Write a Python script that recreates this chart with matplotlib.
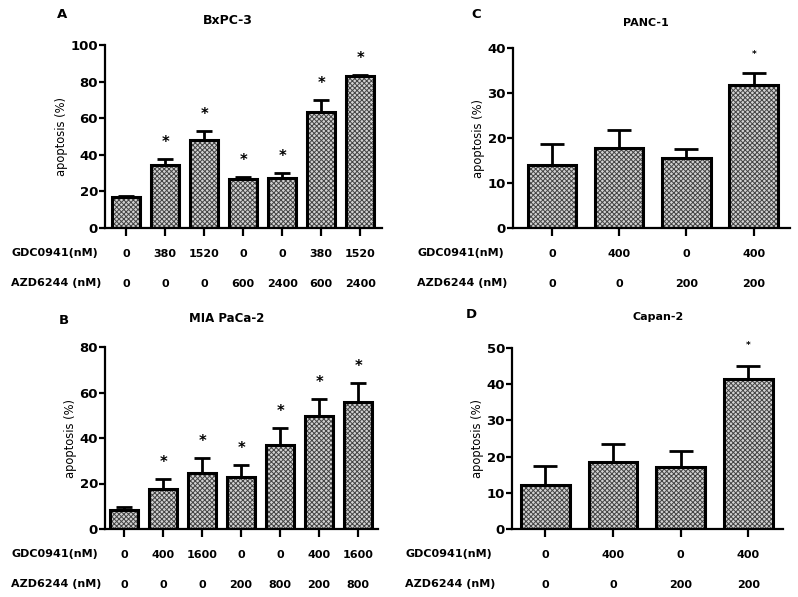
import numpy as np
import matplotlib
matplotlib.use("Agg")
import matplotlib.pyplot as plt

# values (mean apoptosis %, upper SD)
bx_gdc = ["0", "380", "1520", "0", "0", "380", "1520"]
bx_azd = ["0", "0", "0", "600", "2400", "600", "2400"]
bx_mean = [17.1, 34.4, 47.9, 26.8, 27.3, 63.4, 82.9]
bx_err = [0.4, 3.3, 5.1, 1.1, 2.6, 6.4, 0.7]
bx_sig = [False, True, True, True, True, True, True]

mia_gdc = ["0", "400", "1600", "0", "0", "400", "1600"]
mia_azd = ["0", "0", "0", "200", "800", "200", "800"]
mia_mean = [8.2, 17.6, 24.6, 22.9, 37.1, 49.5, 56.0]
mia_err = [1.5, 4.5, 6.6, 5.2, 7.3, 7.6, 8.2]
mia_sig = [False, True, True, True, True, True, True]

panc_gdc = ["0", "400", "0", "400"]
panc_azd = ["0", "0", "200", "200"]
panc_mean = [14.0, 17.7, 15.5, 31.7]
panc_err = [4.7, 4.1, 2.1, 2.8]
panc_sig = [False, False, False, True]

capan_gdc = ["0", "400", "0", "400"]
capan_azd = ["0", "0", "200", "200"]
capan_mean = [12.2, 18.5, 17.0, 41.4]
capan_err = [5.3, 5.1, 4.6, 3.6]
capan_sig = [False, False, False, True]

W, H = 798, 597
plt.rcParams['font.family'] = ['DejaVu Sans']
plt.rcParams['font.weight'] = 'bold'
plt.rcParams['hatch.linewidth'] = 0.7

fig = plt.figure(figsize=(W / 100, H / 100), dpi=100)


def px(left, right, bottom, top):
    # pixel box -> figure fraction rect
    return [left / W, 1 - bottom / H, (right - left) / W, (bottom - top) / H]


def panel(rect, xlim, ymax, ystep, mean, err, gdc, azd, sig,
          cap, starsize, staroff, labx, title, titlexy, titlesize,
          letter, letterxy):
    ax = fig.add_axes(rect)
    x = np.arange(len(mean))
    # hatched fill, then thick black outline on top
    ax.bar(x, mean, width=0.72, color='#d2d2d2', edgecolor='#444444',
           hatch='xxxxxxx', linewidth=0, zorder=2)
    ax.bar(x, mean, width=0.72, fill=False, edgecolor='black',
           linewidth=2.2, zorder=3)
    ax.errorbar(x, mean, yerr=[np.zeros(len(err)), err], fmt='none',
                ecolor='black', elinewidth=2.0, capsize=cap, capthick=2.0,
                zorder=1)
    for xi, m, e, s in zip(x, mean, err, sig):
        if s:
            ax.annotate('*', (xi, m + e), xytext=(0, staroff),
                        textcoords='offset points', ha='center',
                        va='baseline', fontsize=starsize,
                        annotation_clip=False)
    ax.set_xlim(*xlim)
    ax.set_ylim(0, ymax)
    ax.set_yticks(np.arange(0, ymax + 1, ystep))
    ax.set_xticks(x)
    ax.set_xticklabels([])
    for sp in ['top', 'right']:
        ax.spines[sp].set_visible(False)
    for sp in ['left', 'bottom']:
        ax.spines[sp].set_linewidth(1.6)
    ax.tick_params(axis='y', width=1.6, length=4, labelsize=9.5, pad=1)
    ax.tick_params(axis='x', width=1.6, length=6)
    ax.set_ylabel('apoptosis (%)', fontsize=8.3, labelpad=2)

    # dose rows under the bars
    for xi, g, a in zip(x, gdc, azd):
        ax.annotate(g, (xi, 0), xycoords=('data', 'axes fraction'),
                    xytext=(0, -18.5), textcoords='offset points',
                    ha='center', va='center', fontsize=8)
        ax.annotate(a, (xi, 0), xycoords=('data', 'axes fraction'),
                    xytext=(0, -40), textcoords='offset points',
                    ha='center', va='center', fontsize=8)
    bottom_px = (1 - rect[1]) * H
    fig.text(labx / W, 1 - (bottom_px + 25) / H, 'GDC0941(nM)',
             ha='left', va='center', fontsize=8)
    fig.text(labx / W, 1 - (bottom_px + 55) / H, 'AZD6244 (nM)',
             ha='left', va='center', fontsize=8)

    fig.text(titlexy[0] / W, 1 - titlexy[1] / H, title, ha='center',
             va='center', fontsize=titlesize)
    fig.text(letterxy[0] / W, 1 - letterxy[1] / H, letter, ha='center',
             va='center', fontsize=9.5)
    return ax


panel(px(105, 382, 228, 45), (-0.54, 6.56), 100, 20, bx_mean, bx_err,
      bx_gdc, bx_azd, bx_sig, 5.5, 10.5, 8.5, 11, 'BxPC-3', (228, 20), 9,
      'A', (62, 15))
panel(px(105, 378, 529, 347), (-0.49, 6.51), 80, 20, mia_mean, mia_err,
      mia_gdc, mia_azd, mia_sig, 5.5, 10.5, 8.5, 11, 'MIA PaCa-2', (227, 318), 8.5,
      'B', (64, 321))
panel(px(513, 790, 228, 48), (-0.58, 3.54), 40, 10, panc_mean, panc_err,
      panc_gdc, panc_azd, panc_sig, 8.5, 6.5, 11.5, 417, 'PANC-1', (646, 23), 8,
      'C', (476, 15))
panel(px(512, 783, 529, 348), (-0.49, 3.51), 50, 10, capan_mean, capan_err,
      capan_gdc, capan_azd, capan_sig, 8.5, 6.5, 13, 405, 'Capan-2', (658, 317), 8,
      'D', (471, 315))

fig.savefig('out.png', dpi=100)
